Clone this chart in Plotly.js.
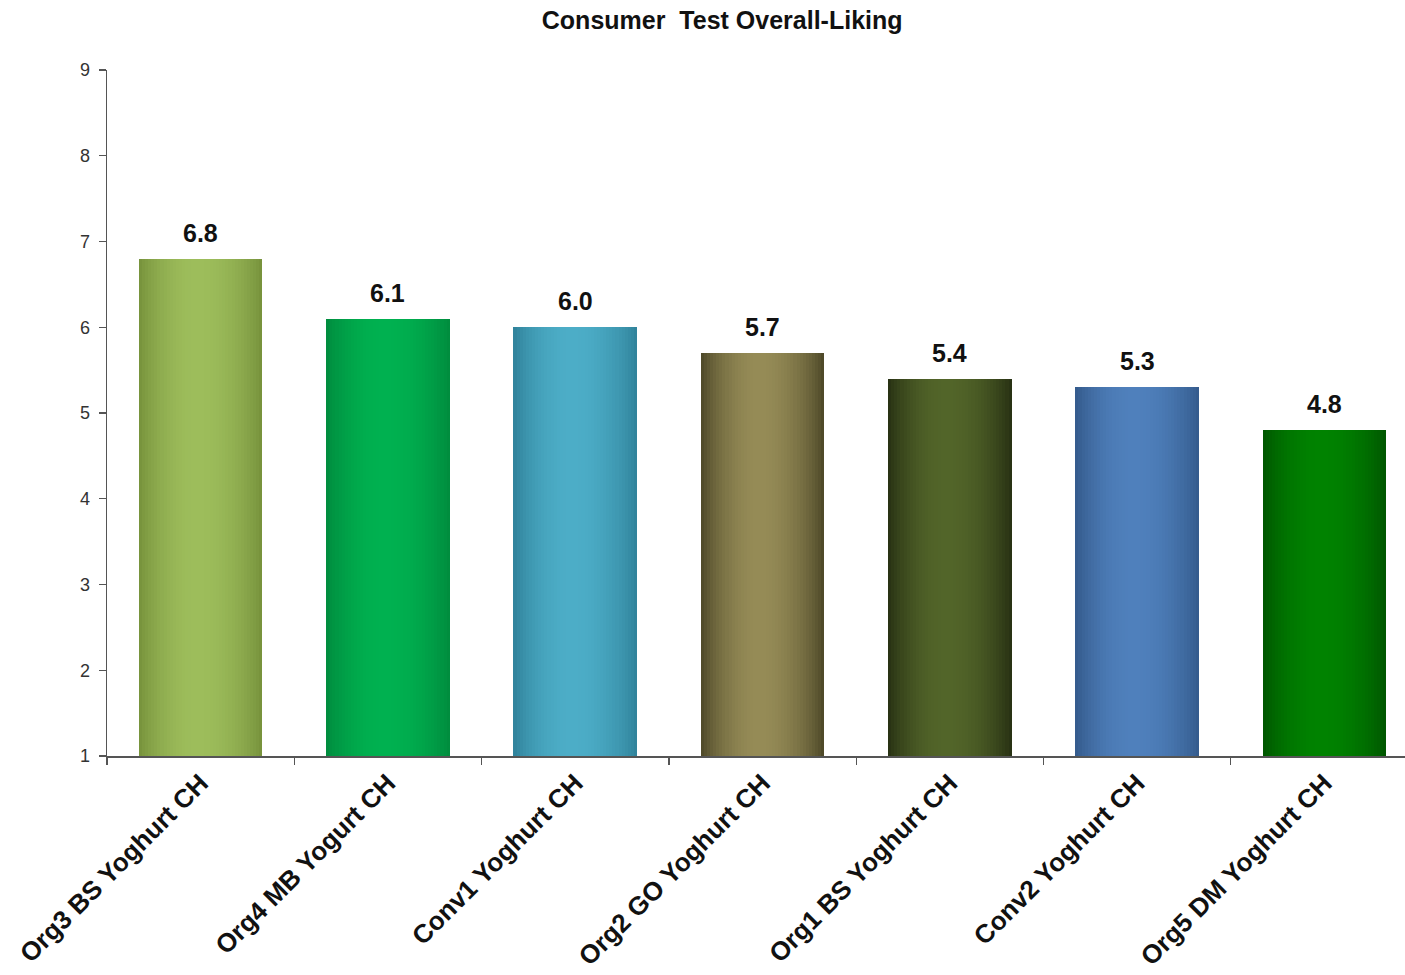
<!DOCTYPE html>
<html>
<head>
<meta charset="utf-8">
<script src="https://cdn.plot.ly/plotly-3.0.1.min.js"></script>
<style>
  html, body { margin: 0; padding: 0; background: #ffffff; }
  #chart { width: 1405px; height: 975px; }
</style>
</head>
<body>
<div id="chart"></div>
<script>
// Consumer test: overall liking per yoghurt (1-9 hedonic scale)
const products = [
  'Org3 BS Yoghurt CH',
  'Org4 MB Yogurt CH',
  'Conv1 Yoghurt CH',
  'Org2 GO Yoghurt CH',
  'Org1 BS Yoghurt CH',
  'Conv2 Yoghurt CH',
  'Org5 DM Yoghurt CH'
];
const liking = [6.8, 6.1, 6.0, 5.7, 5.4, 5.3, 4.8];

// Light (middle) and dark (edge) tone of each bar's cylinder shading
const lightTone = ['#9dbd5b', '#00b150', '#4cadc7', '#958b56', '#526529', '#4f80bc', '#008200'];
const darkTone  = ['#75903a', '#008a3d', '#2f8199', '#4a4526', '#262f12', '#33598a', '#005400'];

const yTicks = [1, 2, 3, 4, 5, 6, 7, 8, 9];

const BAR_W = 0.66;
const STRIPS = 40;

function hexToRgb(h) {
  return [parseInt(h.slice(1, 3), 16), parseInt(h.slice(3, 5), 16), parseInt(h.slice(5, 7), 16)];
}
function mix(a, b, s) {
  const A = hexToRgb(a), B = hexToRgb(b);
  return 'rgb(' + A.map((v, i) => Math.round(v + (B[i] - v) * s)).join(',') + ')';
}
// brightness profile across a bar: dark edges, brightest a little left of centre
function shade(t) {
  const peak = 0.47;
  const u = t < peak ? t / peak : (1 - t) / (1 - peak);
  return Math.pow(Math.sin(u * Math.PI / 2), 0.8);
}

const traces = [];

// base bar carrying the data
traces.push({
  type: 'bar',
  x: products,
  y: liking,
  base: 0,
  width: BAR_W,
  marker: { color: darkTone, line: { width: 0 } },
  hoverinfo: 'x+y',
  showlegend: false
});

// vertical shading strips laid over each bar
const stripW = BAR_W / STRIPS;
for (let k = 0; k < STRIPS; k++) {
  const t = (k + 0.5) / STRIPS;
  const off = -BAR_W / 2 + k * stripW;
  const w = k === STRIPS - 1 ? stripW : stripW * 1.6;
  traces.push({
    type: 'bar',
    x: products,
    y: liking,
    base: 0,
    width: w,
    offset: off,
    marker: { color: products.map((_, i) => mix(darkTone[i], lightTone[i], shade(t))), line: { width: 0 } },
    hoverinfo: 'skip',
    showlegend: false
  });
}

const valueLabels = products.map((p, i) => ({
  x: p,
  y: liking[i],
  xref: 'x',
  yref: 'y',
  text: liking[i].toFixed(1),
  showarrow: false,
  yanchor: 'bottom',
  yshift: 10,
  font: { family: 'Liberation Sans, Arial, sans-serif', size: 25, color: '#111111', weight: 'bold' }
}));

const layout = {
  width: 1405,
  height: 975,
  margin: { l: 107, r: 0, t: 70, b: 219 },
  paper_bgcolor: '#ffffff',
  plot_bgcolor: '#ffffff',
  barmode: 'overlay',
  bargap: 0,
  showlegend: false,
  title: {
    text: '<b>Consumer  Test Overall-Liking</b>',
    x: 0.514,
    xanchor: 'center',
    y: 0.979,
    yanchor: 'middle',
    font: { family: 'Liberation Sans, Arial, sans-serif', size: 25, color: '#111111' }
  },
  xaxis: {
    type: 'category',
    range: [-0.5, 6.43],
    tickson: 'boundaries',
    ticks: 'outside',
    ticklen: 7,
    tickwidth: 1.2,
    tickcolor: '#555555',
    showline: true,
    linecolor: '#555555',
    linewidth: 1.5,
    showgrid: false,
    zeroline: false,
    tickangle: -45,
    tickfont: { family: 'Liberation Sans, Arial, sans-serif', size: 26, color: '#111111', weight: 'bold' },
    fixedrange: true
  },
  yaxis: {
    range: [1, 9],
    tickvals: yTicks,
    ticktext: yTicks.map(String),
    ticks: 'outside',
    ticklen: 7,
    tickwidth: 1.2,
    tickcolor: '#555555',
    showline: true,
    linecolor: '#555555',
    linewidth: 1.5,
    showgrid: false,
    zeroline: false,
    ticklabelstandoff: 5,
    tickfont: { family: 'Liberation Sans, Arial, sans-serif', size: 18, color: '#333333' },
    fixedrange: true
  },
  annotations: valueLabels
};

Plotly.newPlot('chart', traces, layout, { displayModeBar: false, staticPlot: true });
</script>
</body>
</html>
